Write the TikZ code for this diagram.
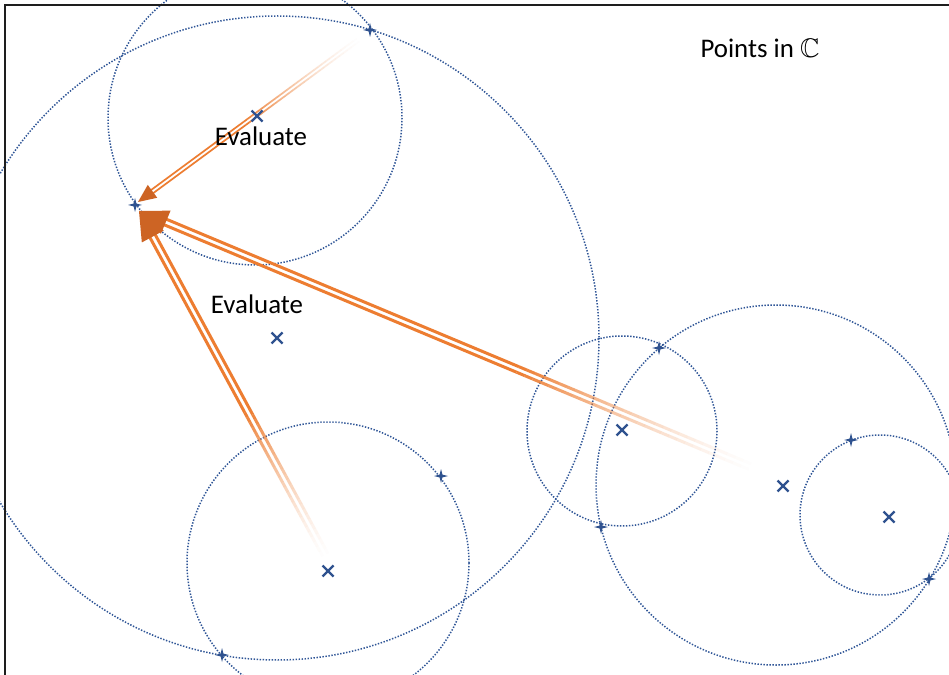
\documentclass[tikz,border=0pt]{standalone}
\usepackage{fontspec}
\setmainfont{Carlito}
\usepackage{amssymb}
\usetikzlibrary{calc}
\definecolor{dotblue}{RGB}{47,85,151}
\definecolor{markblue}{RGB}{47,82,143}
\definecolor{shaftor}{RGB}{237,125,49}
\definecolor{heador}{RGB}{205,100,36}
\definecolor{framegray}{RGB}{30,30,30}
% #1 start, #2 end, #3 half gap, #4 line width, #5 head length, #6 head half width, #7 fade fraction, #8 shaft end (dist from tip)
\newcommand\fadearrow[8]{%
  \coordinate (Qe) at ($(#2)!#8!(#1)$);
  \foreach \sgn in {1,-1}{
    \pgfmathsetmacro\anga{90*\sgn}
    \pgfmathsetmacro\angb{-90*\sgn}
    \coordinate (Aa) at ($(#1)!#3!\anga:(Qe)$);
    \coordinate (Bb) at ($(Qe)!#3!\angb:(#1)$);
    \foreach \i in {0,...,29}{
      \pgfmathsetmacro\ta{\i/30*#7}
      \pgfmathsetmacro\tb{(\i+1)/30*#7}
      \pgfmathsetmacro\op{((\i+0.5)/30)^1.6}
      \draw[shaft, line width=#4, draw opacity=\op] ($(Aa)!\ta!(Bb)$) -- ($(Aa)!\tb!(Bb)$);
    }
    \draw[shaft, line width=#4] ($(Aa)!#7!(Bb)$) -- (Bb);
  }
  \coordinate (Hb) at ($(#2)!#5!(#1)$);
  \fill[heador] (#2) -- ($(Hb)!#6!90:(#2)$) -- ($(Hb)!#6!-90:(#2)$) -- cycle;
}
\tikzset{
  dotc/.style={draw=dotblue, line width=0.03cm, dash pattern=on 0.028cm off 0.032cm},
  shaft/.style={draw=shaftor, line cap=butt},
  lbl/.style={inner sep=0pt, font=\fontsize{15.3}{18}\selectfont, text=black},
  xmark/.pic={\draw[markblue, line width=0.045cm] (-5.5,-5.5) -- (5.5,5.5) (-5.5,5.5) -- (5.5,-5.5);},
  pmark/.pic={\fill[markblue] (-7,0) -- (-1.4,-1.4) -- (0,-7) -- (1.4,-1.4) -- (7,0) -- (1.4,1.4) -- (0,7) -- (-1.4,1.4) -- cycle;}
}
\begin{document}
\begin{tikzpicture}[x=0.02cm,y=-0.02cm]
\useasboundingbox (0,0) rectangle (949,675);
\fill[white] (0,0) rectangle (949,675);
% centres of circles
\coordinate (cBig) at (277,338);
\coordinate (cTop) at (255,118);
\coordinate (cBL) at (328,563);
\coordinate (cMid) at (622,431);
\coordinate (cBR) at (776,485);
\coordinate (cSR) at (880,515);
% x marks
\coordinate (x1) at (257,116);
\coordinate (x2) at (277,338);
\coordinate (x3) at (328,571);
\coordinate (x4) at (622,430);
\coordinate (x5) at (783,486);
\coordinate (x6) at (889,517);
% + marks
\coordinate (p1) at (370,30);
\coordinate (p2) at (135,205);
\coordinate (p3) at (222,655);
\coordinate (p4) at (441,476);
\coordinate (p5) at (659,348);
\coordinate (p6) at (601,527);
\coordinate (p7) at (851,440);
\coordinate (p8) at (929,579);
% arrow ends
\coordinate (s1) at (362,37);
\coordinate (t1) at (138,202);
\coordinate (s2) at (328,560);
\coordinate (s3) at (758,470);
\coordinate (t2) at (139,211);
\begin{scope}
\clip (0,0) rectangle (949,675);
\draw[dotc] (cBig) circle (322);
\draw[dotc] (cTop) circle (147);
\draw[dotc] (cBL) circle (141);
\draw[dotc] (cMid) circle (95);
\draw[dotc] (cBR) circle (180);
\draw[dotc] (cSR) circle (80);
% frame
\draw[framegray, line width=0.04cm] (5,675) -- (5,5) -- (949,5);
% arrows
\fadearrow{s1}{t1}{0.038cm}{0.034cm}{0.36cm}{0.16cm}{0.55}{0.26cm}
\fadearrow{s2}{t2}{0.06cm}{0.06cm}{0.58cm}{0.25cm}{0.45}{0.4cm}
\fadearrow{s3}{t2}{0.06cm}{0.06cm}{0.58cm}{0.25cm}{0.4}{0.4cm}
% marks
\foreach \c in {x1,x2,x3,x4,x5,x6} \pic at (\c) {xmark};
\foreach \c in {p1,p2,p3,p4,p5,p6,p7,p8} \pic at (\c) {pmark};
\end{scope}
% labels
\node[lbl] (ev1) at (261,136) {Evaluate};
\node[lbl] (ev2) at (257,304) {Evaluate};
\node[lbl] (title) at (760,48) {Points in $\mathbb{C}$};
\end{tikzpicture}
\end{document}
